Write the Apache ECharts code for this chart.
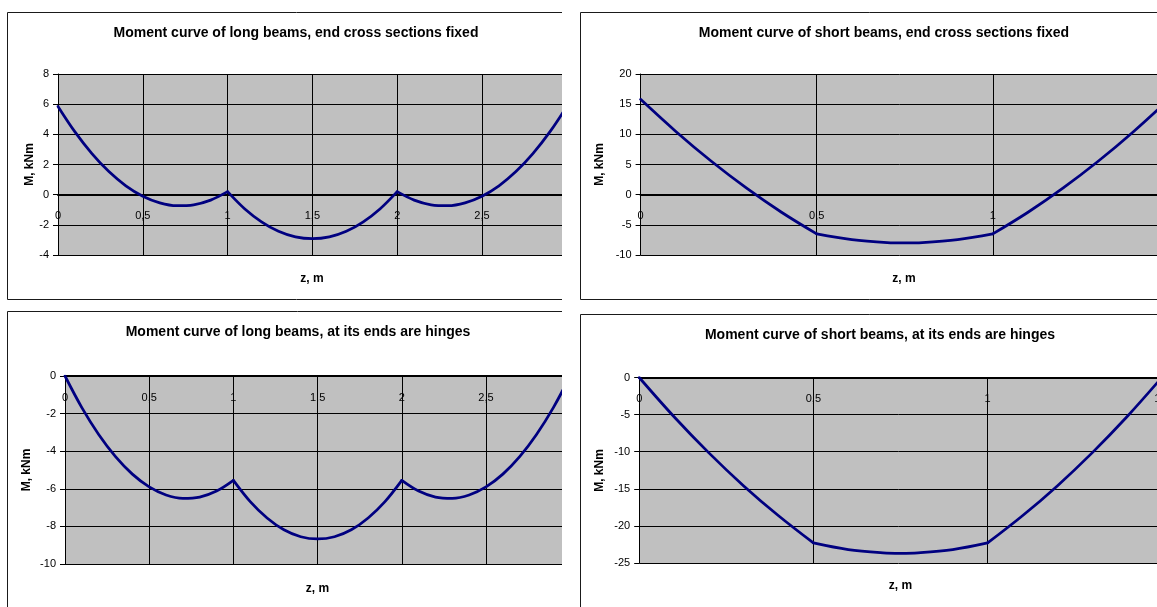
<!DOCTYPE html>
<html>
<head>
<meta charset="utf-8">
<script src="https://cdn.jsdelivr.net/npm/echarts@6/dist/echarts.min.js"></script>
<style>
html,body{margin:0;padding:0;background:#fff;width:1157px;height:607px;overflow:hidden;}
.c{position:absolute;left:0;top:0;width:1157px;height:607px;}
</style>
</head>
<body>
<div id="c1" class="c" style="clip-path:inset(0px 595px 302px 0px)"></div>
<div id="c2" class="c" style="clip-path:inset(0px 0px 302px 570px)"></div>
<div id="c3" class="c" style="clip-path:inset(305px 595px 0px 0px)"></div>
<div id="c4" class="c" style="clip-path:inset(305px 0px 0px 570px)"></div>
<script>
// ---- data ----
const zLong = [0,0.1,0.2,0.3,0.4,0.5,0.6,0.7,0.8,0.9,1.0,1.1,1.2,1.3,1.4,1.5,1.6,1.7,1.8,1.9,2.0,2.1,2.2,2.3,2.4,2.5,2.6,2.7,2.8,2.9,3.0];
const mLongFixed = [5.85,4.16,2.72,1.53,0.59,-0.10,-0.54,-0.73,-0.67,-0.36,0.20,-0.93,-1.80,-2.43,-2.80,-2.92,-2.80,-2.43,-1.80,-0.93,0.20,-0.36,-0.67,-0.73,-0.54,-0.10,0.59,1.53,2.72,4.16,5.85];
const mLongHinged = [0,-1.68,-3.11,-4.29,-5.22,-5.90,-6.33,-6.51,-6.44,-6.12,-5.55,-6.68,-7.55,-8.18,-8.55,-8.67,-8.55,-8.18,-7.55,-6.68,-5.55,-6.12,-6.44,-6.51,-6.33,-5.90,-5.22,-4.29,-3.11,-1.68,0];
const zShort = [0,0.1,0.2,0.3,0.4,0.5,0.6,0.7,0.75,0.8,0.9,1.0,1.1,1.2,1.3,1.4,1.5];
const mShortFixed = [15.8,10.48,5.58,1.12,-2.91,-6.5,-7.46,-7.94,-8.0,-7.94,-7.46,-6.5,-2.91,1.12,5.58,10.48,15.8];
const mShortHinged = [0,-5.29,-10.16,-14.61,-18.64,-22.3,-23.2,-23.64,-23.7,-23.64,-23.2,-22.3,-18.64,-14.61,-10.16,-5.29,0];
// support positions where the curve has a kink
const kinksLong = [1.0, 2.0];
const kinksShort = [0.5, 1.0];
const chartTitles = [
  'Moment curve of long beams, end cross sections fixed',
  'Moment curve of short beams, end cross sections fixed',
  'Moment curve of long beams, at its ends are hinges',
  'Moment curve of short beams, at its ends are hinges'
];
const xAxisTitle = 'z, m';
const yAxisTitle = 'M, kNm';

const FF = 'Arial, "Liberation Sans", sans-serif';

// split a curve into spans at the kinks (each span shares its end points)
function spans(z, m, kinks){
  const out = []; let cur = [];
  z.forEach((v,i)=>{
    cur.push([v, m[i]]);
    if (kinks.indexOf(v) >= 0){ out.push(cur); cur = [[v, m[i]]]; }
  });
  out.push(cur);
  return out;
}

function txt(text, x, y, size, rot){
  return {
    type:'text', x:x, y:y, rotation: rot||0, silent:true,
    style:{text:text, fill:'#000', font:'bold '+size+'px '+FF,
      align:'center', verticalAlign:'middle', textAlign:'center', textVerticalAlign:'middle'}
  };
}

function make(id, c){
  const chart = echarts.init(document.getElementById(id), null, {renderer:'canvas'});
  // shift the x axis (line + labels) up to the y = 0 level
  const zeroOffset = -c.grid[3] * (0 - c.yMin) / (c.yMax - c.yMin);
  chart.setOption({
    animation:false,
    backgroundColor:'transparent',
    grid:{left:c.grid[0], top:c.grid[1], width:c.grid[2], height:c.grid[3],
      show:true, backgroundColor:'#c0c0c0', borderWidth:0,
      containLabel:false, outerBoundsMode:'none'},
    xAxis:{type:'value', min:0, max:c.xMax, interval:0.5, position:'bottom', offset:zeroOffset,
      axisLine:{show:true, onZero:false, lineStyle:{color:'#000', width:2}},
      axisTick:{show:true, length:4, lineStyle:{color:'#000', width:1}},
      axisLabel:{color:'#000', fontSize:11, fontFamily:FF, margin:16,
        showMinLabel:true, showMaxLabel:true, hideOverlap:false,
        formatter:function(v){ return c.hideX.indexOf(v) >= 0 ? '' : String(v).replace('.', ','); }},
      splitLine:{show:true, lineStyle:{color:'#000', width:1}}},
    yAxis:{type:'value', min:c.yMin, max:c.yMax, interval:c.yStep,
      axisLine:{show:true, onZero:false, lineStyle:{color:'#000', width:1}},
      axisTick:{show:true, length:5, lineStyle:{color:'#000', width:1}},
      axisLabel:{color:'#000', fontSize:11, fontFamily:FF, margin:9},
      splitLine:{show:true, lineStyle:{color:'#000', width:1}}},
    series: spans(c.z, c.m, c.kinks).map(function(d){
      return {type:'line', data:d, symbol:'none', smooth:0.35, clip:true,
        lineStyle:{color:'#000080', width:2.75, cap:'round', join:'round'}};
    }),
    graphic:[
      {type:'rect', silent:true, shape:{x:c.frame[0], y:c.frame[1], width:c.frame[2], height:c.frame[3]},
        style:{fill:'none', stroke:'#1a1a1a', lineWidth:1}},
      txt(c.title, c.titlePos[0], c.titlePos[1], 14, 0),
      txt(xAxisTitle, c.xName[0], c.xName[1], 12, 0),
      txt(yAxisTitle, c.yName[0], c.yName[1], 12, Math.PI/2)
    ]
  });
}

make('c1', {grid:[58,74,508.8,181], xMax:3, hideX:[3], yMin:-4, yMax:8, yStep:2,
  z:zLong, m:mLongFixed, kinks:kinksLong, title:chartTitles[0], titlePos:[296,33.5],
  xName:[312,279], yName:[29.5,164.5], frame:[7.5,12.5,578,287]});
make('c2', {grid:[640.6,74,528.3,181], xMax:1.5, hideX:[1.5], yMin:-10, yMax:20, yStep:5,
  z:zShort, m:mShortFixed, kinks:kinksShort, title:chartTitles[1], titlePos:[884,33.5],
  xName:[904,279], yName:[600,164.5], frame:[580.5,12.5,606,287]});
make('c3', {grid:[65,376,505.2,188], xMax:3, hideX:[3], yMin:-10, yMax:0, yStep:2,
  z:zLong, m:mLongHinged, kinks:kinksLong, title:chartTitles[2], titlePos:[298,332.5],
  xName:[317.5,588.5], yName:[27,470], frame:[7.5,311.5,580,400]});
make('c4', {grid:[639.2,377.5,522.6,185.5], xMax:1.5, hideX:[], yMin:-25, yMax:0, yStep:5,
  z:zShort, m:mShortHinged, kinks:kinksShort, title:chartTitles[3], titlePos:[880,335],
  xName:[900.5,585.5], yName:[600,470.5], frame:[580.5,314.5,600,400]});
</script>
</body>
</html>
